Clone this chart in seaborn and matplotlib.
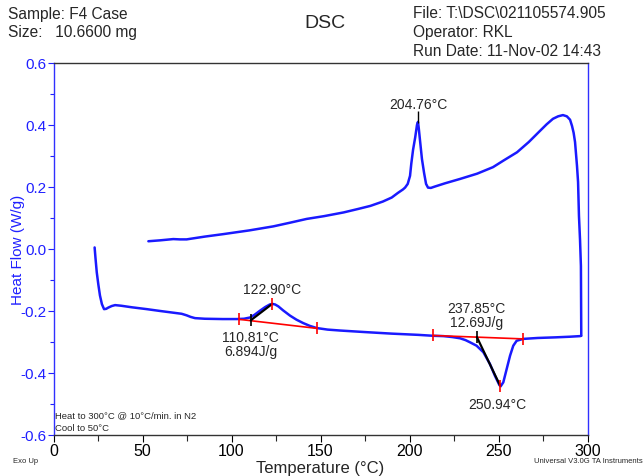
import matplotlib
matplotlib.use("Agg")
import matplotlib.pyplot as plt
import seaborn as sns
from matplotlib.ticker import MultipleLocator

sns.set_style("ticks")
plt.rcParams['font.family'] = ['Liberation Sans', 'DejaVu Sans']

# Heating segment (Temperature °C, Heat Flow W/g)
heat_T = [23.1, 23.6, 24.3, 25.2, 26.1, 27.2, 28.4, 29.6, 30.8, 32.7, 34.6, 38.0, 44.0,
          52.4, 60.0, 68.0, 72.0, 74.8, 77.0, 79.5, 85.0, 95.0, 102.9, 107.0, 110.4,
          113.0, 116.0, 119.0, 121.5, 122.9, 124.5, 126.3, 129.0, 132.9, 136.5, 140.3,
          144.0, 147.9, 154.0, 161.0, 175.0, 190.0, 205.0, 213.4, 219.0, 224.0, 228.4,
          231.5, 234.0, 237.7, 241.5, 245.2, 248.0, 250.5, 251.2, 252.7, 254.6, 256.5,
          258.3, 260.2, 263.9, 272.0, 282.0, 290.0, 295.8, 296.4]
heat_HF = [0.005, -0.03, -0.075, -0.115, -0.15, -0.178, -0.194, -0.193, -0.189, -0.184,
           -0.181, -0.183, -0.188, -0.194, -0.2, -0.206, -0.209, -0.214, -0.219, -0.223,
           -0.225, -0.226, -0.226, -0.225, -0.221, -0.212, -0.199, -0.187, -0.179, -0.177,
           -0.179, -0.185, -0.198, -0.215, -0.228, -0.239, -0.248, -0.255, -0.26, -0.263,
           -0.268, -0.273, -0.277, -0.28, -0.281, -0.284, -0.288, -0.294, -0.301, -0.312,
           -0.333, -0.371, -0.409, -0.439, -0.443, -0.43, -0.387, -0.344, -0.312, -0.296,
           -0.29, -0.287, -0.285, -0.283, -0.281, -0.28]

# Cooling segment
cool_T = [296.5, 296.4, 296.3, 295.8, 295.2, 294.7, 294.1, 293.0, 292.2, 291.3, 290.2,
          288.4, 286.2, 283.5, 280.6, 277.0, 273.3, 267.0, 260.4, 253.0, 246.9, 238.0,
          228.4, 220.0, 214.0, 212.0, 210.4, 209.3, 208.2, 207.0, 206.0, 205.2, 204.76,
          204.2, 203.2, 202.0, 201.0, 200.3, 199.0, 197.5, 196.3, 193.5, 190.0, 185.0,
          178.0, 171.0, 163.0, 152.0, 142.2, 133.0, 123.5, 110.0, 95.4, 85.0, 77.0,
          74.8, 71.0, 67.3, 60.0, 53.3]
cool_HF = [-0.28, -0.17, -0.055, 0.03, 0.107, 0.216, 0.268, 0.345, 0.375, 0.397, 0.417,
           0.428, 0.432, 0.428, 0.42, 0.402, 0.381, 0.345, 0.312, 0.286, 0.264, 0.243,
           0.226, 0.212, 0.201, 0.197, 0.198, 0.21, 0.245, 0.29, 0.345, 0.39, 0.41,
           0.40, 0.36, 0.32, 0.275, 0.236, 0.21, 0.198, 0.192, 0.181, 0.166, 0.153,
           0.139, 0.129, 0.118, 0.106, 0.097, 0.085, 0.073, 0.06, 0.048, 0.04, 0.033,
           0.031, 0.031, 0.032, 0.028, 0.025]

# Analysis: baselines, onsets and peaks
base1_T = [104.4, 147.9]
base1_HF = [-0.227, -0.256]
onset1 = (110.81, -0.230)
peak1 = (122.90, -0.177)
energy1 = "6.894J/g"
base2_T = [213.4, 263.9]
base2_HF = [-0.279, -0.290]
onset2 = (237.85, -0.284)
peak2 = (250.94, -0.441)
energy2 = "12.69J/g"
peak3 = (204.76, 0.41)

W, H = 644, 477
fig = plt.figure(figsize=(6.44, 4.77), dpi=100)
ax = fig.add_axes([53.5 / W, 1 - 436 / H, (587.5 - 53.5) / W, (436 - 64) / H])

blue = '#1a1aff'
sns.lineplot(x=heat_T, y=heat_HF, ax=ax, color=blue, lw=1.8, sort=False, estimator=None)
sns.lineplot(x=cool_T, y=cool_HF, ax=ax, color=blue, lw=1.8, sort=False, estimator=None)

# baselines
ax.plot(base1_T, base1_HF, color='red', lw=1.2, marker='|', ms=9, mew=1.2, zorder=4)
ax.plot(base2_T, base2_HF, color='red', lw=1.2, marker='|', ms=9, mew=1.2, zorder=4)
# onset lines
ax.plot([onset1[0], peak1[0]], [onset1[1], peak1[1]], color='black', lw=1.6, zorder=5)
ax.plot([onset2[0], peak2[0]], [onset2[1], peak2[1]], color='black', lw=1.6, zorder=5)
ax.plot([onset1[0]], [onset1[1]], marker='|', color='black', ms=9, mew=1.2, zorder=5)
ax.plot([onset2[0]], [onset2[1]], marker='|', color='black', ms=9, mew=1.2, zorder=5)
ax.plot([peak1[0]], [peak1[1]], marker='|', color='red', ms=9, mew=1.2, zorder=6)
ax.plot([peak2[0]], [peak2[1]], marker='|', color='red', ms=9, mew=1.2, zorder=6)
ax.plot([peak3[0]], [peak3[1] + 0.015], marker='|', color='black', ms=8, mew=1.0, zorder=6)

fs = 10
ax.text(peak3[0], peak3[1] + 0.035, f"{peak3[0]:.2f}°C", ha='center', va='bottom', fontsize=fs)
ax.text(peak1[0], peak1[1] + 0.025, f"{peak1[0]:.2f}°C", ha='center', va='bottom', fontsize=fs)
ax.text(onset1[0], onset1[1] - 0.03, f"{onset1[0]:.2f}°C\n{energy1}", ha='center', va='top',
        fontsize=fs, linespacing=1.0)
ax.text(onset2[0], onset2[1] + 0.025, f"{onset2[0]:.2f}°C\n{energy2}", ha='center', va='bottom',
        fontsize=fs, linespacing=1.0)
ax.text(peak2[0] - 1.5, peak2[1] - 0.035, f"{peak2[0]:.2f}°C", ha='center', va='top', fontsize=fs)

ax.text(1, -0.535, "Heat to 300°C @ 10°C/min. in N2", fontsize=6.8, ha='left', va='center')
ax.text(1, -0.577, "Cool to 50°C", fontsize=6.8, ha='left', va='center')

ax.set_xlim(0, 300)
ax.set_ylim(-0.6, 0.6)
ax.xaxis.set_major_locator(MultipleLocator(50))
ax.xaxis.set_minor_locator(MultipleLocator(25))
ax.yaxis.set_minor_locator(MultipleLocator(0.1))
ax.set_yticks([-0.6, -0.4, -0.2, 0.0, 0.2, 0.4, 0.6])
ax.set_yticklabels(['-0.6', '-0.4', '-0.2', '0.0', '0.2', '0.4', '0.6'])
ax.tick_params(axis='x', which='major', direction='out', length=5, width=0.8,
               labelsize=11.5, pad=1, colors='black')
ax.tick_params(axis='x', which='minor', direction='out', length=4, width=0.8)
ax.tick_params(axis='y', which='major', direction='out', length=4, width=0.8,
               labelsize=11, pad=1, colors='#2020ff')
ax.tick_params(axis='y', which='minor', direction='out', length=3, width=0.8, colors='#2020ff')
for s in ['left', 'right']:
    ax.spines[s].set_color('#3030ff')
for s in ['top', 'bottom']:
    ax.spines[s].set_color('#333333')
for s in ax.spines.values():
    s.set_linewidth(1.0)

ax.set_xlabel("Temperature (°C)", fontsize=12, labelpad=1)
ax.set_ylabel("Heat Flow (W/g)", fontsize=11, color='#2020ff', va='center')
ax.yaxis.set_label_coords((18 - 53.5) / 534, 0.5)

def fx(px):
    return px / W

def fy(py):
    return 1 - py / H

hfs = 11.2
fig.text(fx(8), fy(14), "Sample: F4 Case", fontsize=hfs, va='center', ha='left')
fig.text(fx(8), fy(33), "Size:   10.6600 mg", fontsize=hfs, va='center', ha='left')
fig.text(fx(325), fy(23), "DSC", fontsize=14, va='center', ha='center')
fig.text(fx(413), fy(14), "File: T:\\DSC\\021105574.905", fontsize=hfs, va='center', ha='left')
fig.text(fx(413), fy(33), "Operator: RKL", fontsize=hfs, va='center', ha='left')
fig.text(fx(413), fy(52), "Run Date: 11-Nov-02 14:43", fontsize=hfs, va='center', ha='left')
fig.text(fx(13), fy(462), "Exo Up", fontsize=5.5, va='center', ha='left')
fig.text(fx(643), fy(462), "Universal V3.0G TA Instruments", fontsize=5.5, va='center', ha='right')

fig.savefig("out.png", dpi=100)
